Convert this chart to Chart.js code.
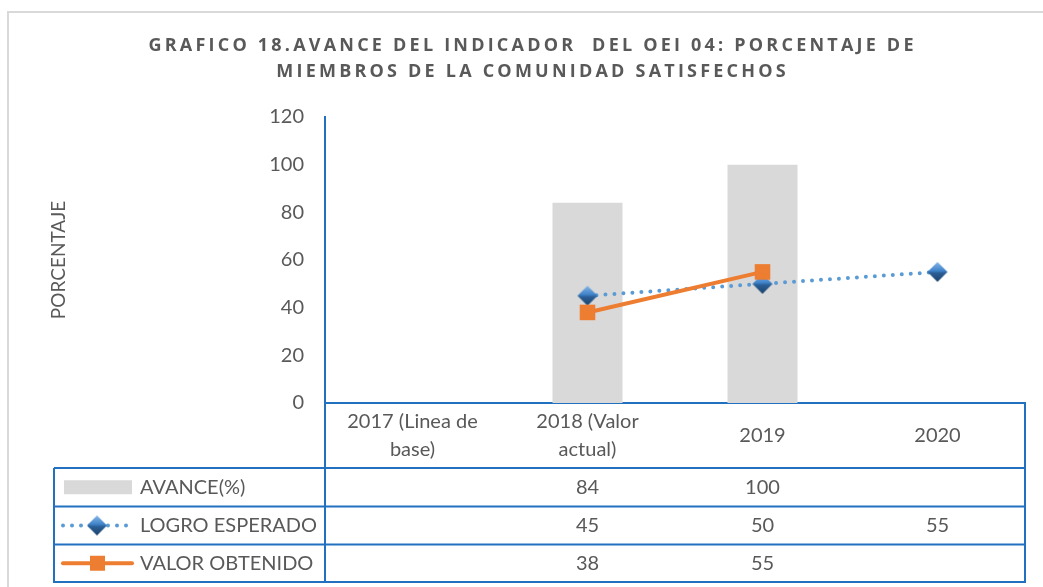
<!DOCTYPE html>
<html>
<head>
<meta charset="utf-8">
<script src="https://cdn.jsdelivr.net/npm/chart.js@4.4.1/dist/chart.umd.min.js"></script>
<style>
  html, body { margin: 0; padding: 0; background: #fff; }
  #wrap { width: 1043px; height: 587px; position: relative; }
</style>
</head>
<body>
<div id="wrap"><canvas id="chart" width="1043" height="587"></canvas></div>
<script>
// data
const categories = [['2017 (Linea de', 'base)'], ['2018 (Valor', 'actual)'], '2019', '2020'];
const avance = [null, 84, 100, null];
const logro = [null, 45, 50, 55];
const valor = [null, 38, 55, null];
const yTicks = { min: 0, max: 120, step: 20 };

const titleLines = ['GRAFICO 18.AVANCE DEL INDICADOR  DEL OEI 04: PORCENTAJE DE', 'MIEMBROS DE LA COMUNIDAD SATISFECHOS'];
const seriesNames = ['AVANCE(%)', 'LOGRO ESPERADO', 'VALOR OBTENIDO'];

// styles
const FONT = 'Lato, "Open Sans", sans-serif';
const TITLE_FONT = '"Open Sans", Lato, sans-serif';
const TEXT = '#595959';
const BLUE = '#2270C0';
const GRAY_BAR = '#d9d9d9';
const DOT_BLUE = '#5B9BD5';
const ORANGE = '#ED7D31';

// layout of the data table under the plot
const tableLeft = 54;
const rowLines = [468, 506.5, 544.5, 582];

// gradient diamond marker
function makeDiamond(r) {
  const c = document.createElement('canvas');
  c.width = c.height = r * 2 + 2;
  const g = c.getContext('2d');
  const m = r + 1;
  const grad = g.createLinearGradient(0, 0, 0, c.height);
  grad.addColorStop(0, '#8DBDEB');
  grad.addColorStop(0.45, '#3F82C8');
  grad.addColorStop(0.55, '#2B5F96');
  grad.addColorStop(1, '#1B3F66');
  g.fillStyle = grad;
  g.beginPath();
  g.moveTo(m, m - r); g.lineTo(m + r, m); g.lineTo(m, m + r); g.lineTo(m - r, m);
  g.closePath();
  g.fill();
  return c;
}
const diamond = makeDiamond(10);

const frameAndTable = {
  id: 'frameAndTable',
  beforeDraw(chart) {
    const ctx = chart.ctx;
    ctx.save();
    ctx.strokeStyle = '#d9d9d9';
    ctx.lineWidth = 2;
    ctx.strokeRect(8, 12, 1200, 800);
    ctx.restore();
  },
  afterDraw(chart) {
    const ctx = chart.ctx;
    const x = chart.scales.x;
    const area = chart.chartArea;
    ctx.save();

    // title
    ctx.fillStyle = TEXT;
    ctx.font = 'bold 18px ' + TITLE_FONT;
    ctx.textBaseline = 'middle';
    ctx.textAlign = 'left';
    ctx.letterSpacing = '0px';
    const w0 = ctx.measureText(titleLines[0]).width;
    const sp = (768 - w0) / titleLines[0].length;
    ctx.letterSpacing = sp.toFixed(2) + 'px';
    [46, 72].forEach((ty, i) => {
      const w = ctx.measureText(titleLines[i]).width - sp;
      ctx.fillText(titleLines[i], 531 - w / 2, ty);
    });
    ctx.letterSpacing = '0px';

    // y axis title
    ctx.save();
    ctx.translate(59, 260);
    ctx.rotate(-Math.PI / 2);
    ctx.textAlign = 'center';
    ctx.font = '19px ' + FONT;
    ctx.fillText('PORCENTAJE', 0, 0);
    ctx.restore();

    // table grid
    ctx.strokeStyle = BLUE;
    ctx.lineWidth = 2;
    ctx.beginPath();
    rowLines.forEach(y => { ctx.moveTo(tableLeft, y); ctx.lineTo(area.right, y); });
    ctx.moveTo(area.left, area.bottom); ctx.lineTo(area.left, rowLines[3] + 1);
    ctx.moveTo(area.right, area.bottom); ctx.lineTo(area.right, rowLines[3] + 1);
    ctx.moveTo(tableLeft, rowLines[0]); ctx.lineTo(tableLeft, rowLines[3] + 1);
    ctx.stroke();

    // header labels
    ctx.font = '20px ' + FONT;
    ctx.textAlign = 'center';
    const hMid = (area.bottom + rowLines[0]) / 2;
    categories.forEach((lab, i) => {
      const cx = x.getPixelForValue(i);
      const lines = Array.isArray(lab) ? lab : [lab];
      lines.forEach((ln, k) => {
        ctx.fillText(ln, cx, hMid + (k - (lines.length - 1) / 2) * 28);
      });
    });

    // data rows
    [avance, logro, valor].forEach((vals, r) => {
      const cy = (rowLines[r] + rowLines[r + 1]) / 2;
      vals.forEach((v, i) => {
        if (v !== null) ctx.fillText(String(v), x.getPixelForValue(i), cy);
      });
      ctx.textAlign = 'left';
      ctx.fillText(seriesNames[r], 140, cy);
      ctx.textAlign = 'center';
    });

    // legend keys
    let cy = (rowLines[0] + rowLines[1]) / 2;
    ctx.fillStyle = GRAY_BAR;
    ctx.fillRect(64, cy - 7, 68, 14);

    cy = (rowLines[1] + rowLines[2]) / 2;
    ctx.strokeStyle = DOT_BLUE;
    ctx.lineWidth = 4;
    ctx.lineCap = 'round';
    ctx.setLineDash([0, 9]);
    ctx.beginPath();
    ctx.moveTo(63, cy); ctx.lineTo(131, cy);
    ctx.stroke();
    ctx.setLineDash([]);
    ctx.drawImage(diamond, 97 - diamond.width / 2, cy - diamond.height / 2);

    cy = (rowLines[2] + rowLines[3]) / 2;
    ctx.strokeStyle = ORANGE;
    ctx.lineWidth = 4;
    ctx.lineCap = 'round';
    ctx.beginPath();
    ctx.moveTo(63, cy); ctx.lineTo(132, cy);
    ctx.stroke();
    ctx.fillStyle = ORANGE;
    ctx.fillRect(90, cy - 7.5, 15, 15);

    ctx.restore();
  }
};

new Chart(document.getElementById('chart'), {
  type: 'bar',
  data: {
    labels: categories,
    datasets: [
      {
        type: 'line', label: seriesNames[2], data: valor, order: 1,
        borderColor: ORANGE, borderWidth: 4, backgroundColor: ORANGE,
        pointStyle: 'rect', pointRadius: 11, pointBorderWidth: 0,
        pointBackgroundColor: ORANGE, spanGaps: false
      },
      {
        type: 'line', label: seriesNames[1], data: logro, order: 2,
        borderColor: DOT_BLUE, borderWidth: 4, borderDash: [0, 9],
        borderCapStyle: 'round', pointStyle: diamond, pointRadius: 10
      },
      {
        type: 'bar', label: seriesNames[0], data: avance, order: 3,
        backgroundColor: GRAY_BAR, barPercentage: 0.4, categoryPercentage: 1
      }
    ]
  },
  options: {
    responsive: false,
    devicePixelRatio: 1,
    animation: false,
    layout: { padding: { top: 117, right: 18, left: 0, bottom: 0 } },
    plugins: { legend: { display: false }, tooltip: { enabled: false }, title: { display: false } },
    scales: {
      x: {
        offset: true,
        grid: { display: false },
        border: { color: BLUE, width: 2 },
        ticks: { display: false },
        afterFit(s) { s.height = 184; }
      },
      y: {
        min: yTicks.min, max: yTicks.max,
        grid: { display: false, drawTicks: false },
        border: { color: BLUE, width: 2 },
        ticks: { stepSize: yTicks.step, color: TEXT, font: { size: 20, family: FONT }, padding: 21 },
        afterFit(s) { s.width = 325; }
      }
    }
  },
  plugins: [frameAndTable]
});
</script>
</body>
</html>
